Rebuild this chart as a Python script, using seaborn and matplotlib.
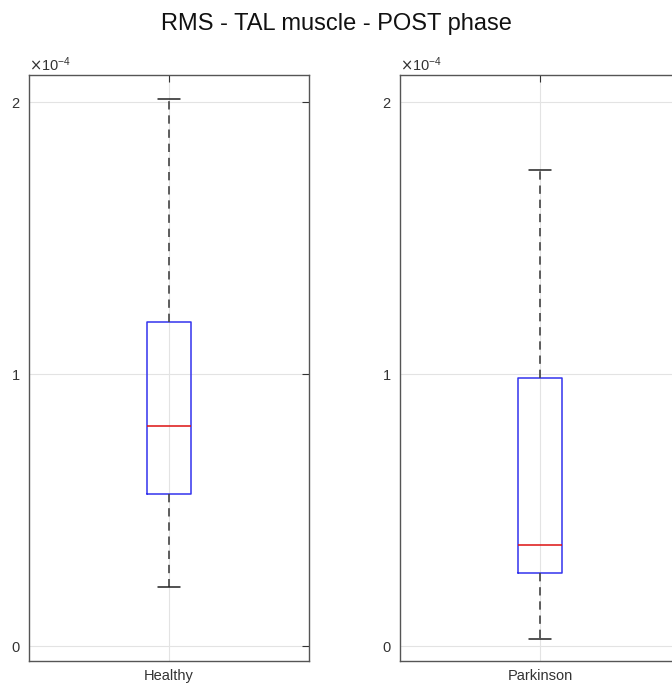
import pandas as pd
import seaborn as sns
import matplotlib.pyplot as plt
from matplotlib.ticker import ScalarFormatter

# five-number summaries (min, Q1, median, Q3, max)
groups = ["Healthy", "Parkinson"]
healthy_vals = [0.217e-4, 0.559e-4, 0.809e-4, 1.191e-4, 2.011e-4]
parkinson_vals = [0.026e-4, 0.268e-4, 0.371e-4, 0.985e-4, 1.750e-4]
title = "RMS - TAL muscle - POST phase"

df = pd.DataFrame({
    "rms": healthy_vals + parkinson_vals,
    "group": ["Healthy"] * len(healthy_vals) + ["Parkinson"] * len(parkinson_vals),
})

sns.set_theme(style="white")
plt.rcParams["font.family"] = ["Liberation Sans", "DejaVu Sans"]

fig = plt.figure(figsize=(6.72, 6.89), dpi=100)
positions = [0.0432, 0.5952]

for x0, g in zip(positions, groups):
    ax = fig.add_axes([x0, 0.0406, 0.4167, 0.8505])
    sub = df[df["group"] == g]
    sns.boxplot(data=sub, y="rms", ax=ax, fill=False, width=0.154, whis=(0, 100),
                linewidth=1.1, showfliers=False,
                boxprops=dict(color="#3333ee"),
                medianprops=dict(color="#dd1111", linewidth=1.1),
                whiskerprops=dict(color="#444444", linestyle=(0, (5, 3.5)), linewidth=1.2),
                capprops=dict(color="#222222", linewidth=1.1))
    ax.set_xlim(-0.5, 0.5)
    ax.set_ylim(-0.055e-4, 2.1e-4)
    ax.set_xticks([0])
    ax.set_xticklabels([g])
    ax.set_yticks([0, 1e-4, 2e-4])
    fmt = ScalarFormatter(useMathText=True)
    fmt.set_powerlimits((0, 0))
    ax.yaxis.set_major_formatter(fmt)
    ax.yaxis.get_offset_text().set_fontsize(10.5)
    ax.yaxis.get_offset_text().set_color("#333333")
    ax.set_xlabel("")
    ax.set_ylabel("")
    ax.grid(True, color="#e3e3e3", linewidth=0.8)
    ax.set_axisbelow(True)
    ax.tick_params(direction="in", top=True, right=True, length=5, width=0.8,
                   colors="#333333", labelsize=10.5, pad=6)
    for s in ax.spines.values():
        s.set_color("#555555")
        s.set_linewidth(1.0)

fig.suptitle(title, x=0.5, y=0.965, va="center", fontsize=17, color="#111111")
fig.savefig("out.png", dpi=100)
